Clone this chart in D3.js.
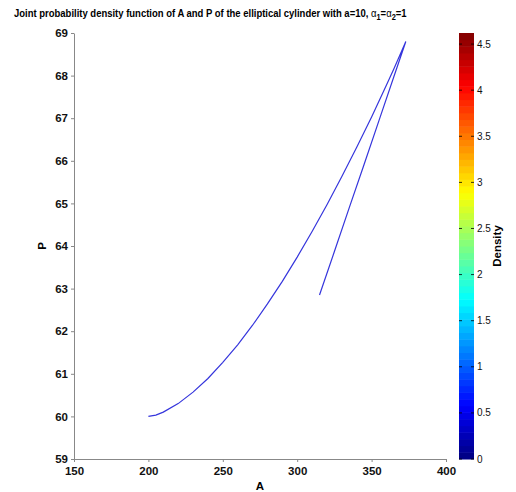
<!DOCTYPE html>
<html><head><meta charset="utf-8">
<script src="https://cdn.jsdelivr.net/npm/d3@7"></script>
<style>
body{margin:0;background:#fff;}
text{font-family:"Liberation Sans",Arial,Helvetica,sans-serif;}
</style></head>
<body><svg id="c" width="516" height="492"></svg>
<script>
// Data
const curveA = [200,205,210,220,230,240,250,260,270,280,290,300,310,320,330,340,350,360,365,373,
                365,355,345,335,325,315];
const curveP = [60.00,60.03,60.10,60.30,60.57,60.89,61.27,61.68,62.14,62.64,63.17,63.74,64.34,64.97,65.63,66.32,67.03,67.78,68.16,68.80,
                67.98,66.95,65.92,64.90,63.87,62.85];
const xTicks = [150,200,250,300,350,400];
const yTicks = [59,60,61,62,63,64,65,66,67,68,69];
const cbTicks = [0,0.5,1,1.5,2,2.5,3,3.5,4,4.5];
const cbMax = 4.62;
const nColors = 64;

const svg = d3.select("#c");
const L=74, R=446, T=33, B=459;
const x = d3.scaleLinear().domain([150,400]).range([L,R]);
const y = d3.scaleLinear().domain([59,69]).range([B,T]);

// title
const tg = svg.append("g");
const title = tg.append("text").attr("x",0).attr("y",17)
  .attr("font-size",11.5).attr("font-weight","bold").attr("fill","#000");
title.append("tspan").text("Joint probability density function of A and P of the elliptical cylinder with a=10,  ");
title.append("tspan").attr("font-weight","normal").text("α");
title.append("tspan").attr("dy",3).attr("font-size",9).text("1");
title.append("tspan").attr("dy",-3).text("=");
title.append("tspan").attr("font-weight","normal").text("α");
title.append("tspan").attr("dy",3).attr("font-size",9).text("2");
title.append("tspan").attr("dy",-3).text("=1");
const tw = title.node().getComputedTextLength();
tg.attr("transform",`translate(14,0) scale(${393/tw},1)`);

// axes
const gx = svg.append("g").attr("transform",`translate(0,${B})`)
  .call(d3.axisBottom(x).tickValues(xTicks).tickSize(3).tickSizeOuter(0).tickPadding(5));
const gy = svg.append("g").attr("transform",`translate(${L},0)`)
  .call(d3.axisLeft(y).tickValues(yTicks).tickSize(3).tickSizeOuter(0).tickPadding(3));
[gx,gy].forEach(g=>{
  g.select(".domain").attr("stroke","#888");
  g.selectAll(".tick line").attr("stroke","#888");
  g.selectAll(".tick text").attr("font-size",11.5).attr("font-weight","bold")
   .attr("font-family","'Liberation Sans',Arial,sans-serif").attr("fill","#111");
});
svg.append("text").attr("x",(L+R)/2).attr("y",490).attr("text-anchor","middle")
  .attr("font-size",11.5).attr("font-weight","bold").text("A");
svg.append("text").attr("transform",`translate(46,${y(64)}) rotate(-90)`).attr("text-anchor","middle")
  .attr("font-size",11.5).attr("font-weight","bold").text("P");

// curve
const pts = curveA.map((a,i)=>[a,curveP[i]]);
svg.append("path").datum(pts)
  .attr("d", d3.line().x(d=>x(d[0])).y(d=>y(d[1])).curve(d3.curveLinear))
  .attr("fill","none").attr("stroke","#3535dc").attr("stroke-width",1.2);

// colorbar
function jet(t){
  const c=v=>Math.max(0,Math.min(1,v));
  return d3.rgb(255*c(1.5-Math.abs(4*t-3)),255*c(1.5-Math.abs(4*t-2)),255*c(1.5-Math.abs(4*t-1)));
}
const CL=459, CR=474;
const cy = d3.scaleLinear().domain([0,cbMax]).range([B,T]);
const bands = d3.range(nColors);
svg.append("g").selectAll("rect").data(bands).join("rect")
  .attr("x",CL).attr("width",CR-CL)
  .attr("y",i=>cy((i+1)*cbMax/nColors))
  .attr("height",i=>cy(i*cbMax/nColors)-cy((i+1)*cbMax/nColors)+0.5)
  .attr("fill",i=>jet((i+0.5)/nColors));
const cbg = svg.append("g");
cbTicks.forEach(v=>{
  cbg.append("line").attr("x1",CL).attr("x2",CL+3).attr("y1",cy(v)).attr("y2",cy(v)).attr("stroke","#000").attr("stroke-width",0.8);
  cbg.append("line").attr("x1",CR-3).attr("x2",CR).attr("y1",cy(v)).attr("y2",cy(v)).attr("stroke","#000").attr("stroke-width",0.8);
  cbg.append("text").attr("x",CR+3).attr("y",cy(v)).attr("dy","0.35em")
    .attr("font-size",10).attr("fill","#111").text(v);
});
svg.append("text").attr("transform",`translate(501,${(T+B)/2}) rotate(-90)`).attr("text-anchor","middle")
  .attr("font-size",11.5).attr("font-weight","bold").text("Density");
</script></body></html>
